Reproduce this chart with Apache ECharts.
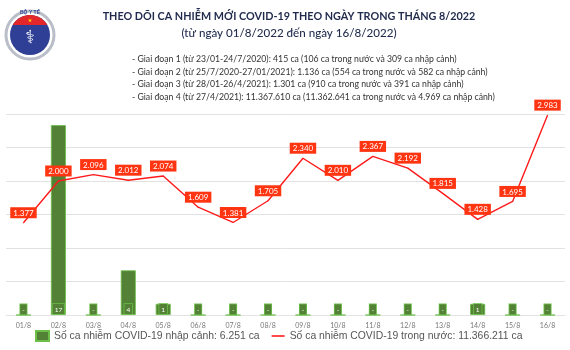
<!DOCTYPE html>
<html>
<head>
<meta charset="utf-8">
<script src="https://cdn.jsdelivr.net/npm/echarts@6/dist/echarts.min.js"></script>
<style>html,body{margin:0;padding:0;background:#fff}#c{width:570px;height:350px}</style>
</head>
<body>
<div id="c"></div>
<script>
const categories = ['01/8','02/8','03/8','04/8','05/8','06/8','07/8','08/8','09/8','10/8','11/8','12/8','13/8','14/8','15/8','16/8'];
const importedCases = [0,17,0,4,1,0,0,0,0,0,0,0,0,1,0,0];
const domesticCases = [1377,2000,2096,2012,2074,1609,1381,1705,2340,2010,2367,2192,1815,1428,1695,2983];
const titleText = 'THEO DÕI CA NHIỄM MỚI COVID-19 THEO NGÀY TRONG THÁNG 8/2022';
const subtitleText = '(từ ngày 01/8/2022 đến ngày 16/8/2022)';
const detailLines = [
  '- Giai đoạn 1 (từ 23/01-24/7/2020): 415 ca (106 ca trong nước và 309 ca nhập cảnh)',
  '- Giai đoạn 2 (từ 25/7/2020-27/01/2021): 1.136 ca (554 ca trong nước và 582 ca nhập cảnh)',
  '- Giai đoạn 3 (từ 28/01-26/4/2021): 1.301 ca (910 ca trong nước và 391 ca nhập cảnh)',
  '- Giai đoạn 4 (từ 27/4/2021): 11.367.610 ca (11.362.641 ca trong nước và 4.969 ca nhập cảnh)'
];
const legendNames = ['Số ca nhiễm COVID-19 nhập cảnh: 6.251 ca', 'Số ca nhiễm COVID-19 trong nước: 11.366.211 ca'];

function fmt(v){ return String(v).replace(/\B(?=(\d{3})+(?!\d))/g, '.'); }

const chart = echarts.init(document.getElementById('c'));
// logo red band (circle segment)
const seg = [];
for (let a = 210; a <= 330; a += 6) {
  const r = a * Math.PI / 180;
  seg.push([30 + 20 * Math.cos(r), 35 + 20 * Math.sin(r)]);
}
const graphics = [
  {type:'circle', shape:{cx:30, cy:35, r:24}, style:{fill:'#fff', stroke:'#b9bec8', lineWidth:3}},
  {type:'circle', shape:{cx:30, cy:35, r:20}, style:{fill:'#2e3f95'}},
  {type:'polygon', shape:{points:seg}, style:{fill:'#e3262a'}, z:10},
  {type:'text', x:30, y:13, style:{text:'BỘ Y TẾ', fill:'#2e3f95', font:'bold 5px "Liberation Sans"', align:'center', verticalAlign:'middle'}},
  {type:'text', x:30, y:21, style:{text:'★', fill:'#ffd800', font:'5px "DejaVu Sans"', align:'center', verticalAlign:'middle'}, z:11},
  {type:'text', x:30, y:38, style:{text:'⚕', fill:'#fff', font:'18px "DejaVu Sans"', align:'center', verticalAlign:'middle'}},
  {type:'text', x:289, y:17, style:{text:titleText, fill:'#1f2a4d', font:'bold 10.8px Lato', align:'center', verticalAlign:'middle'}},
  {type:'text', x:289, y:33, style:{text:subtitleText, fill:'#1f2a4d', font:'500 11.6px Lato', align:'center', verticalAlign:'middle'}}
];
const lineYs = [59, 72, 84, 97];
detailLines.forEach((t,i)=>graphics.push({type:'text', x:132, y:lineYs[i], style:{text:t, fill:'#333', font:'8.7px Lato', verticalAlign:'middle'}}));

chart.setOption({
  animation:false,
  graphic: graphics,
  grid:{left:6, right:5, top:114, bottom:35},
  legend:{
    bottom:3, left:30, itemGap:12, itemWidth:13, itemHeight:10,
    textStyle:{fontFamily:'Liberation Sans', fontSize:10.4, color:'#555'},
    data:[
      {name:legendNames[0], icon:'rect'},
      {name:legendNames[1], icon:'path://M0,0 L13,0 L13,1.6 L0,1.6 Z'}
    ]
  },
  xAxis:{
    type:'category', data:categories,
    axisLine:{show:true, lineStyle:{color:'#e3e3e3'}}, axisTick:{show:false},
    axisLabel:{fontSize:7, color:'#777', margin:7, fontFamily:'Lato'}
  },
  yAxis:[
    {type:'value', min:0, max:3000, interval:500, axisLabel:{show:false}, axisLine:{show:false}, axisTick:{show:false},
     splitLine:{lineStyle:{color:'#e2e2e2', width:1}}},
    {type:'value', min:0, max:18, interval:3, show:false, splitLine:{show:false}}
  ],
  series:[
    {
      name:legendNames[0], type:'bar', yAxisIndex:1, data:importedCases, barWidth:15,
      itemStyle:{color:'#538135', borderColor:'#6cc04a', borderWidth:0.8},
      label:{show:true, position:'insideBottom', distance:1, formatter:p=>p.value===0?'-':String(p.value),
        color:'#fff', fontSize:6.5, fontFamily:'Lato', backgroundColor:'#538135', borderColor:'#6cc04a', borderWidth:0.8, padding:[2,2,1,2]}
    },
    {
      name:legendNames[1], type:'line', yAxisIndex:0, data:domesticCases,
      symbol:'circle', symbolSize:1, itemStyle:{color:'#ff1a1a'}, lineStyle:{color:'#ff1a1a', width:1.4},
      label:{show:true, position:'top', distance:4, formatter:p=>fmt(p.value), color:'#fff', fontSize:8, fontFamily:'Lato',
        backgroundColor:'#ff3411', padding:[2,3,1,3]},
      z:5
    }
  ]
});
</script>
</body>
</html>
